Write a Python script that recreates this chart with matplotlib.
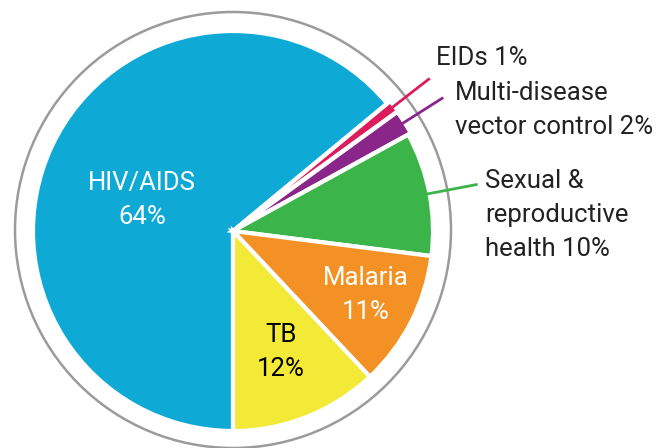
import numpy as np
import matplotlib
matplotlib.use('Agg')
import matplotlib.pyplot as plt
from matplotlib.patches import Circle

plt.rcParams['font.family'] = ['Roboto', 'DejaVu Sans']

# data
labels = ['HIV/AIDS', 'EIDs', 'Multi-disease vector control', 'Sexual & reproductive health', 'Malaria', 'TB']
shares = [64, 1, 2, 10, 11, 12]
colors = ['#0FA9D6', '#DB1E5B', '#8A2589', '#3BB54A', '#F49124', '#F2EA37']
explode = [0, 4, 3, 0, 0, 0]

# layout in pixel units (y up)
cx, cy, r = 233, 217, 200

fig = plt.figure(figsize=(6.56, 4.48), dpi=100)
ax = fig.add_axes([0, 0, 1, 1])
ax.axis('off')

wedges, _ = ax.pie(shares, center=(cx, cy), radius=r, startangle=270, counterclock=False,
                   colors=colors, explode=explode,
                   wedgeprops=dict(edgecolor='white', linewidth=3))
ax.set_xlim(0, 656)
ax.set_ylim(0, 448)
ax.set_aspect('equal')

ax.add_patch(Circle((cx, cy + 1), 218, fill=False, edgecolor='#9b9b9b', linewidth=1.8))

# leader lines for the small / outside-labelled slices
for i in [1, 2, 3]:
    w = wedges[i]
    ang = np.deg2rad((w.theta1 + w.theta2) / 2)
    r0 = r * 0.98 + explode[i]
    r1 = r * 1.245
    ax.plot([cx + r0 * np.cos(ang), cx + r1 * np.cos(ang)],
            [cy + r0 * np.sin(ang), cy + r1 * np.sin(ang)],
            color=colors[i], linewidth=2, solid_capstyle='butt')

fs = 18.5
ls = 1.55
dark = '#222222'
ax.text(436, 448 - 58, 'EIDs 1%', fontsize=fs, color=dark, ha='left', va='center')
ax.text(455, 448 - 110, 'Multi-disease\nvector control 2%', fontsize=fs, color=dark,
        ha='left', va='center', linespacing=ls)
ax.text(485, 448 - 215, 'Sexual &\nreproductive\nhealth 10%', fontsize=fs, color=dark,
        ha='left', va='center', linespacing=ls)

ax.text(142, 448 - 200, 'HIV/AIDS\n64%', fontsize=fs, color='white', ha='center', va='center',
        linespacing=ls)
ax.text(366, 448 - 295, 'Malaria\n11%', fontsize=fs, color='white', ha='center', va='center',
        linespacing=ls)
ax.text(281, 448 - 352, 'TB\n12%', fontsize=fs, color='black', ha='center', va='center',
        linespacing=ls)

fig.savefig('out.png', dpi=100)
